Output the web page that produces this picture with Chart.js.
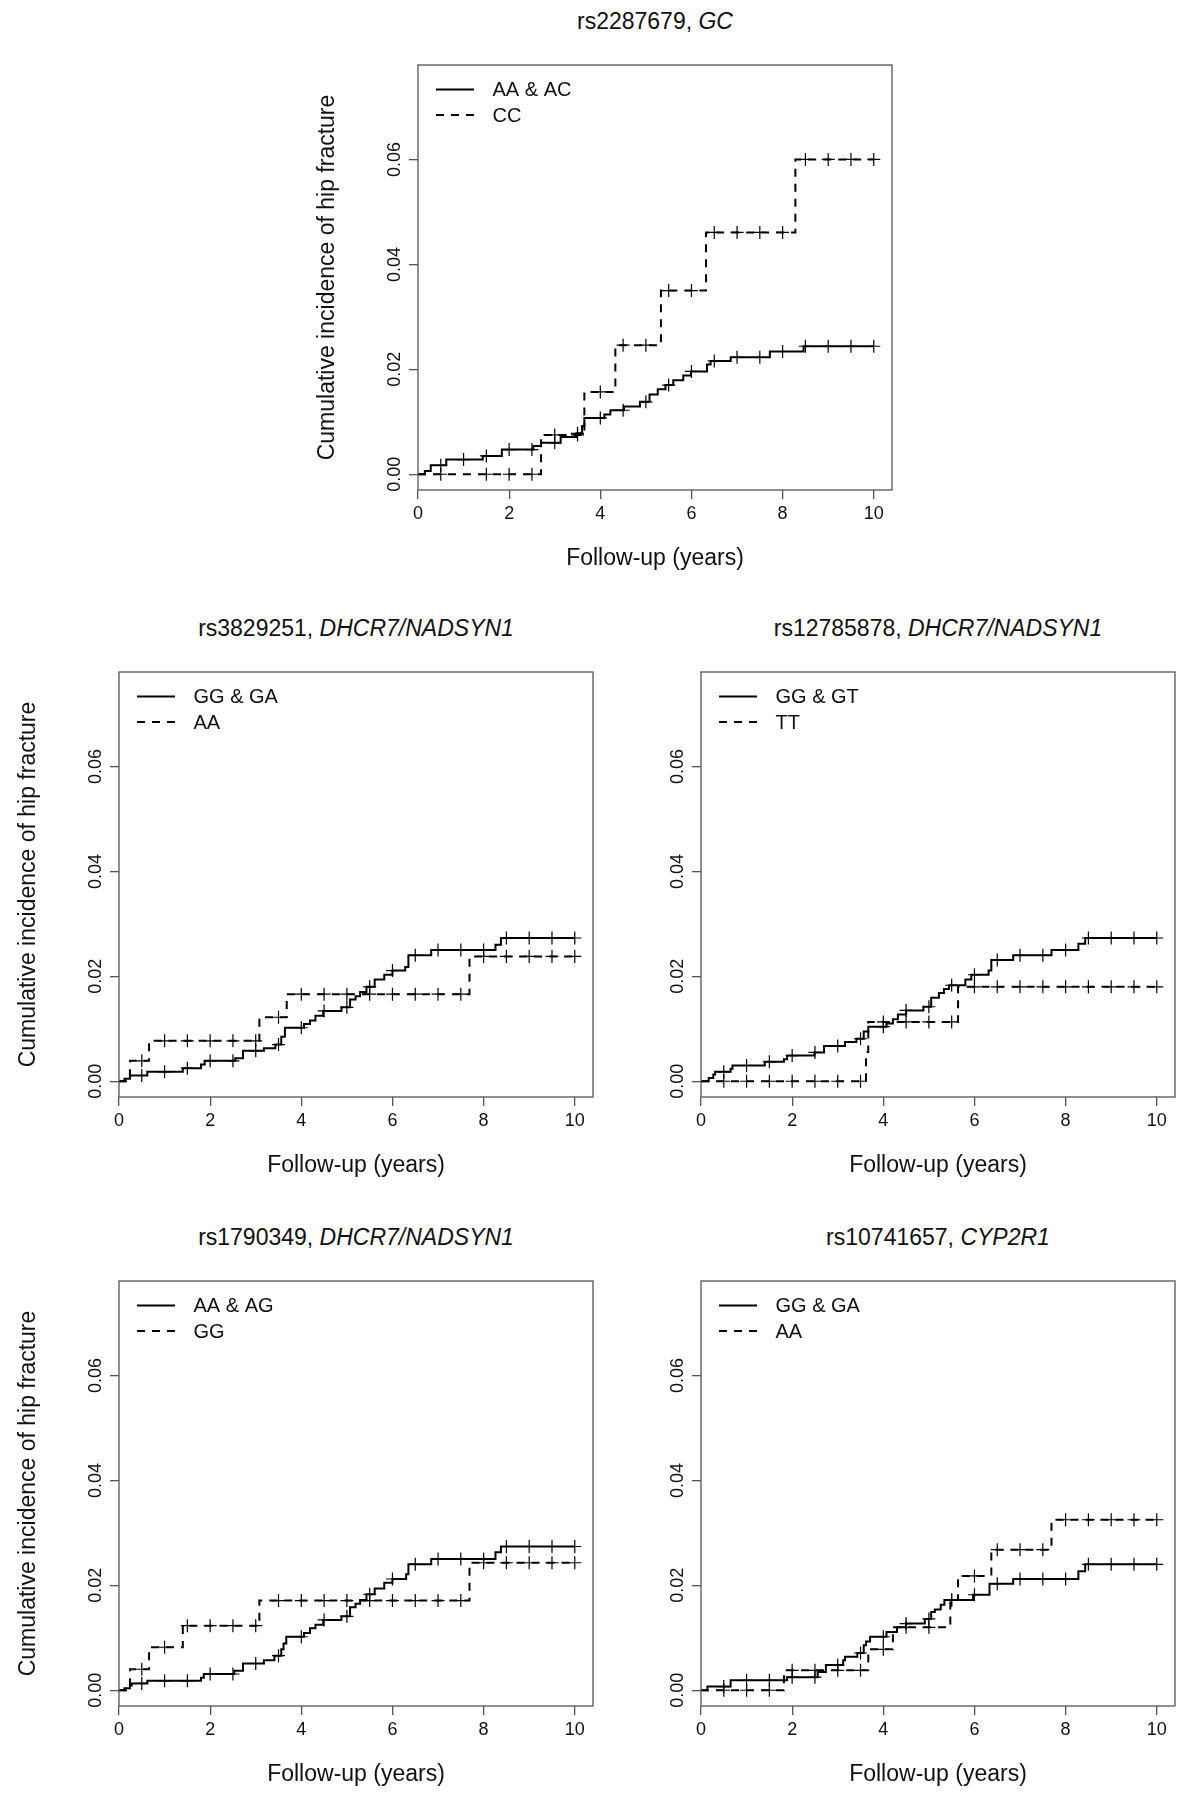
<!DOCTYPE html>
<html>
<head>
<meta charset="utf-8">
<script src="https://cdn.jsdelivr.net/npm/chart.js@4.4.0/dist/chart.umd.min.js"></script>
<style>
  body { margin: 0; background: #fff; width: 1200px; height: 1806px; position: relative; overflow: hidden;
         font-family: "Liberation Sans", Arial, sans-serif; }
  canvas.panel { position: absolute; }
  .ttl { position: absolute; text-align: center; font-size: 23px; color: #111; white-space: nowrap;
         height: 30px; line-height: 30px; }
</style>
</head>
<body>
<script>
// axis ticks
const xTicks = [0, 2, 4, 6, 8, 10];
const yTicks = [0, 0.02, 0.04, 0.06];
const halfYears = [0.5, 1, 1.5, 2, 2.5, 3, 3.5, 4, 4.5, 5, 5.5, 6, 6.5, 7, 7.5, 8, 8.5, 9, 9.5, 10];

// rs2287679, GC
const p1Labels = ['AA & AC', 'CC'];
const p1SolidT = [0.15, 0.28, 0.62, 1.42, 1.84, 2.53, 2.7, 3.13, 3.48, 3.6, 3.65, 4.09, 4.22, 4.52, 4.87, 5.08, 5.26, 5.43, 5.6, 5.82, 5.99, 6.34, 6.42, 6.86, 7.72, 8.46];
const p1SolidV = [0.0006, 0.0017, 0.0028, 0.0035, 0.0047, 0.0054, 0.006, 0.0071, 0.0078, 0.0092, 0.0107, 0.0114, 0.0122, 0.0129, 0.0138, 0.0152, 0.0162, 0.017, 0.0179, 0.0188, 0.0196, 0.0209, 0.0216, 0.0223, 0.0234, 0.0244];
const p1DashT = [2.7, 3.65, 4.33, 5.33, 6.32, 8.28];
const p1DashV = [0.0075, 0.0157, 0.0246, 0.035, 0.0461, 0.06];
const p1DashCens = [0.5, 1.5, 2, 2.5, 3, 3.5, 4, 4.5, 5, 5.5, 6, 6.5, 7, 7.5, 8, 8.5, 9, 9.5, 10];

// rs3829251, DHCR7/NADSYN1
const p2Labels = ['GG & GA', 'AA'];
const p2SolidT = [0.12, 0.24, 0.62, 1.4, 1.8, 1.88, 2.55, 2.72, 3.18, 3.43, 3.56, 3.64, 4.06, 4.19, 4.31, 4.48, 4.88, 5.07, 5.19, 5.29, 5.43, 5.61, 5.82, 6.0, 6.28, 6.35, 6.85, 8.26, 8.38];
const p2SolidV = [0.0005, 0.0011, 0.0018, 0.0025, 0.0032, 0.0039, 0.0044, 0.0058, 0.0063, 0.007, 0.0085, 0.0102, 0.0109, 0.0116, 0.0125, 0.0134, 0.0141, 0.0156, 0.0162, 0.017, 0.018, 0.0194, 0.0203, 0.0211, 0.0218, 0.024, 0.025, 0.026, 0.0273];
const p2DashT = [0.24, 0.66, 3.08, 3.68, 7.69];
const p2DashV = [0.0039, 0.0077, 0.0122, 0.0166, 0.0238];

// rs12785878, DHCR7/NADSYN1
const p3Labels = ['GG & GT', 'TT'];
const p3SolidT = [0.17, 0.27, 0.31, 0.65, 0.69, 1.4, 1.82, 1.89, 2.49, 2.7, 3.16, 3.41, 3.57, 3.67, 4.07, 4.21, 4.32, 4.5, 4.88, 5.05, 5.22, 5.33, 5.44, 5.8, 5.93, 6.31, 6.37, 6.85, 7.69, 8.28, 8.43];
const p3SolidV = [0.0006, 0.0013, 0.0018, 0.0024, 0.003, 0.0037, 0.0042, 0.0049, 0.0055, 0.0067, 0.0075, 0.0081, 0.0095, 0.0104, 0.011, 0.0118, 0.0127, 0.0135, 0.0142, 0.0159, 0.0168, 0.0176, 0.0183, 0.0194, 0.0203, 0.0211, 0.0231, 0.024, 0.025, 0.0262, 0.0273];
const p3DashT = [3.62, 3.67, 5.64];
const p3DashV = [0.0056, 0.0113, 0.018];

// rs1790349, DHCR7/NADSYN1
const p4Labels = ['AA & AG', 'GG'];
const p4SolidT = [0.12, 0.24, 0.28, 0.62, 1.8, 1.86, 2.53, 2.72, 3.18, 3.41, 3.56, 3.61, 3.67, 4.06, 4.19, 4.31, 4.48, 4.88, 5.07, 5.19, 5.29, 5.43, 5.61, 5.82, 6.0, 6.3, 6.35, 6.85, 8.26, 8.38];
const p4SolidV = [0.0004, 0.0009, 0.0013, 0.0018, 0.0024, 0.0031, 0.0037, 0.0051, 0.0057, 0.0066, 0.0078, 0.0089, 0.0102, 0.0109, 0.0118, 0.0125, 0.0134, 0.0141, 0.0158, 0.0165, 0.0172, 0.0183, 0.0194, 0.0205, 0.0212, 0.0221, 0.024, 0.025, 0.0263, 0.0274];
const p4DashT = [0.24, 0.66, 1.4, 3.08, 7.69];
const p4DashV = [0.004, 0.0082, 0.0123, 0.0171, 0.0243];

// rs10741657, CYP2R1
const p5Labels = ['GG & GA', 'AA'];
const p5SolidT = [0.14, 0.65, 1.89, 2.56, 2.74, 3.12, 3.16, 3.43, 3.57, 3.62, 3.71, 4.07, 4.3, 4.5, 4.91, 5.05, 5.13, 5.26, 5.34, 5.97, 6.33, 6.85, 8.28, 8.43];
const p5SolidV = [0.0007, 0.0019, 0.0025, 0.0035, 0.0048, 0.0057, 0.0064, 0.0071, 0.0086, 0.0093, 0.0102, 0.0111, 0.012, 0.0127, 0.0136, 0.0149, 0.0154, 0.0163, 0.0172, 0.0182, 0.0203, 0.0212, 0.0227, 0.024];
const p5DashT = [1.82, 3.67, 4.21, 5.47, 5.64, 6.37, 7.69];
const p5DashV = [0.0038, 0.0078, 0.012, 0.0172, 0.0218, 0.0268, 0.0325];

Chart.defaults.font.family = '"Liberation Sans", Arial, sans-serif';
Chart.defaults.color = '#111';

// value of the KM step function at time t
function stepAt(times, vals, t) {
    let v = 0;
    for (let i = 0; i < times.length; i++) if (times[i] <= t) v = vals[i];
    return v;
}
function curve(times, vals) {
    const pts = [{ x: 0, y: 0 }];
    times.forEach((t, i) => pts.push({ x: t, y: vals[i] }));
    pts.push({ x: 10, y: vals[vals.length - 1] });
    return pts;
}
function marks(times, vals, cens) {
    return cens.map(t => ({ x: t, y: stepAt(times, vals, t) }));
}

// R style box round the plot region
const boxPlugin = {
    id: 'rbox',
    afterDraw(chart) {
        const a = chart.chartArea, ctx = chart.ctx;
        ctx.save();
        ctx.strokeStyle = '#555';
        ctx.lineWidth = 1.3;
        ctx.strokeRect(a.left, a.top, a.right - a.left, a.bottom - a.top);
        ctx.restore();
    }
};

// legend in the top-left corner of the plot region
const legendPlugin = {
    id: 'rlegend',
    afterDraw(chart, args, opts) {
        const a = chart.chartArea, ctx = chart.ctx;
        ctx.save();
        ctx.font = '20px "Liberation Sans", Arial, sans-serif';
        ctx.fillStyle = '#111';
        ctx.textBaseline = 'middle';
        opts.labels.forEach((lab, i) => {
            const y = a.top + 24.5 + i * 25.5;
            ctx.strokeStyle = '#000';
            ctx.lineWidth = 2;
            ctx.setLineDash(i === 0 ? [] : [8, 7]);
            ctx.beginPath();
            ctx.moveTo(a.left + 18, y);
            ctx.lineTo(a.left + 56, y);
            ctx.stroke();
            ctx.fillText(lab, a.left + 74.5, y + 1);
        });
        ctx.restore();
    }
};

const panels = [
    { title: 'rs2287679, ', gene: 'GC', labels: p1Labels, st: p1SolidT, sv: p1SolidV, dt: p1DashT, dv: p1DashV,
      sc: halfYears, dc: p1DashCens, left: 418, top: 65, ylab: true },
    { title: 'rs3829251, ', gene: 'DHCR7/NADSYN1', labels: p2Labels, st: p2SolidT, sv: p2SolidV, dt: p2DashT, dv: p2DashV,
      sc: halfYears, dc: halfYears, left: 119, top: 672, ylab: true },
    { title: 'rs12785878, ', gene: 'DHCR7/NADSYN1', labels: p3Labels, st: p3SolidT, sv: p3SolidV, dt: p3DashT, dv: p3DashV,
      sc: halfYears, dc: halfYears, left: 701, top: 672, ylab: false },
    { title: 'rs1790349, ', gene: 'DHCR7/NADSYN1', labels: p4Labels, st: p4SolidT, sv: p4SolidV, dt: p4DashT, dv: p4DashV,
      sc: halfYears, dc: halfYears, left: 119, top: 1281, ylab: true },
    { title: 'rs10741657, ', gene: 'CYP2R1', labels: p5Labels, st: p5SolidT, sv: p5SolidV, dt: p5DashT, dv: p5DashV,
      sc: halfYears, dc: halfYears, left: 701, top: 1281, ylab: false }
];

const BOX_W = 474, BOX_H = 425, PAD_L = 119, PAD_T = 10, PAD_R = 10, PAD_B = 100;

panels.forEach(p => {
    const ttl = document.createElement('div');
    ttl.className = 'ttl';
    ttl.style.left = p.left + 'px';
    ttl.style.width = BOX_W + 'px';
    ttl.style.top = (p.top - 44 - 15) + 'px';
    ttl.innerHTML = p.title + '<i>' + p.gene + '</i>';
    document.body.appendChild(ttl);

    const cv = document.createElement('canvas');
    cv.className = 'panel';
    cv.width = PAD_L + BOX_W + PAD_R;
    cv.height = PAD_T + BOX_H + PAD_B;
    cv.style.left = (p.left - PAD_L) + 'px';
    cv.style.top = (p.top - PAD_T) + 'px';
    document.body.appendChild(cv);

    const lineDs = (label, t, v, dash) => ({
        label: label, data: curve(t, v), stepped: 'before', borderColor: '#000', borderWidth: 2,
        borderDash: dash, pointRadius: 0, fill: false
    });
    const censDs = (t, v, c) => ({
        type: 'scatter', data: marks(t, v, c), pointStyle: 'cross', pointRadius: 6.5,
        borderColor: '#000', borderWidth: 1.2, showLine: false
    });

    new Chart(cv, {
        type: 'line',
        data: {
            datasets: [
                lineDs(p.labels[0], p.st, p.sv, []),
                lineDs(p.labels[1], p.dt, p.dv, [8, 7]),
                censDs(p.st, p.sv, p.sc),
                censDs(p.dt, p.dv, p.dc)
            ]
        },
        options: {
            responsive: false,
            animation: false,
            events: [],
            layout: { padding: { left: 0, top: PAD_T, right: PAD_R, bottom: 0 } },
            plugins: {
                legend: { display: false },
                tooltip: { enabled: false },
                rlegend: { labels: p.labels }
            },
            scales: {
                x: {
                    type: 'linear', min: 0, max: 10.4,
                    afterBuildTicks: s => { s.ticks = xTicks.map(v => ({ value: v })); },
                    afterFit: s => { s.height = PAD_B; },
                    grid: { drawOnChartArea: false, tickLength: 9, color: '#555', lineWidth: 1.3 },
                    border: { display: false },
                    ticks: { font: { size: 18 }, color: '#111', padding: 4, maxRotation: 0 },
                    title: { display: true, text: 'Follow-up (years)', font: { size: 23 }, color: '#111',
                             padding: { top: 0, bottom: 18 } }
                },
                y: {
                    type: 'linear', min: -0.003, max: 0.078,
                    afterBuildTicks: s => { s.ticks = yTicks.map(v => ({ value: v })); },
                    afterFit: s => { s.width = PAD_L; },
                    grid: { drawOnChartArea: false, tickLength: 9, color: '#555', lineWidth: 1.3 },
                    border: { display: false },
                    ticks: { font: { size: 18 }, color: '#111', padding: -4, minRotation: 90, maxRotation: 90,
                             crossAlign: 'center', callback: v => v.toFixed(2) },
                    title: { display: p.ylab, text: 'Cumulative incidence of hip fracture', font: { size: 23 },
                             color: '#111', padding: { top: 15, bottom: 0 } }
                }
            }
        },
        plugins: [boxPlugin, legendPlugin]
    });
});
</script>
</body>
</html>
